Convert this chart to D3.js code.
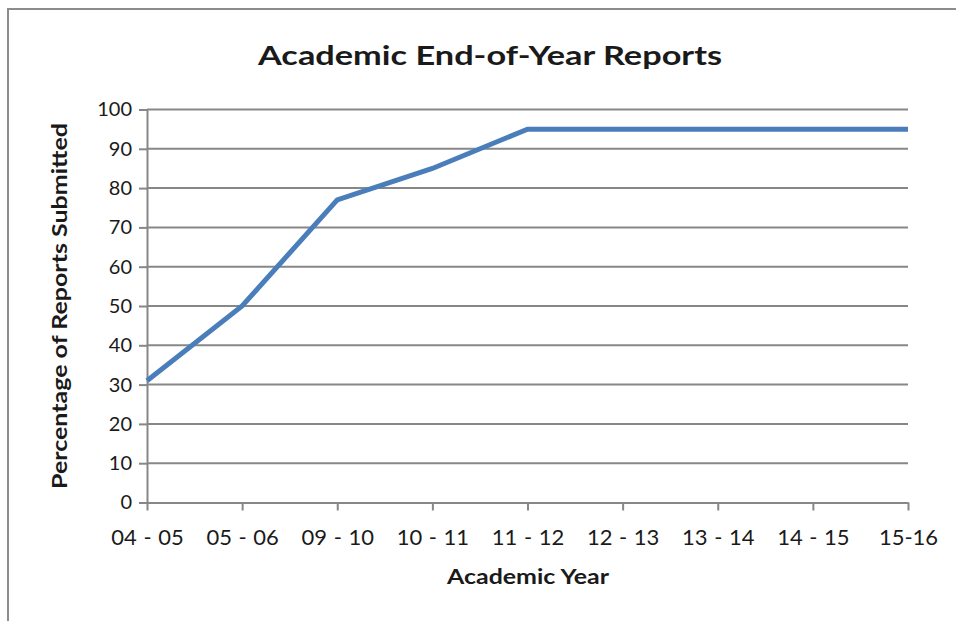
<!DOCTYPE html>
<html>
<head>
<meta charset="utf-8">
<script src="https://cdn.jsdelivr.net/npm/d3@7"></script>
<style>
  html, body { margin: 0; padding: 0; background: #fff; }
  svg { display: block; }
  text { font-family: Lato, "Open Sans", sans-serif; fill: #1a1a1a; }
</style>
</head>
<body>
<svg id="chart" width="956" height="621"></svg>
<script>
// Academic years on the horizontal axis
const years = ["04 - 05", "05 - 06", "09 - 10", "10 - 11", "11 - 12", "12 - 13", "13 - 14", "14 - 15", "15-16"];
// Percentage of end-of-year reports submitted per year
const submitted = [31, 50, 77, 85, 95, 95, 95, 95, 95];
// Y-axis ticks
const yTicks = [0, 10, 20, 30, 40, 50, 60, 70, 80, 90, 100];

const svg = d3.select("#chart");
const W = 956, H = 621;
const margin = { left: 147, right: W - 908, top: 109.5, bottom: H - 502.5 };

// Chart frame
svg.append("rect")
  .attr("x", 8).attr("y", 9)
  .attr("width", 960).attr("height", 640)
  .attr("fill", "none").attr("stroke", "#8c8c8c").attr("stroke-width", 2);

const x = d3.scalePoint().domain(years).range([margin.left, W - margin.right]);
const y = d3.scaleLinear().domain([0, 100]).range([H - margin.bottom, margin.top]);

const gridColor = "#878787";

// Horizontal gridlines
svg.append("g")
  .selectAll("line")
  .data(yTicks.filter(d => d > 0))
  .join("line")
  .attr("x1", margin.left).attr("x2", W - margin.right)
  .attr("y1", d => y(d)).attr("y2", d => y(d))
  .attr("stroke", gridColor).attr("stroke-width", 2);

// Y axis
const yAxis = svg.append("g")
  .attr("transform", `translate(${margin.left},0)`)
  .call(d3.axisLeft(y).tickValues(yTicks).tickSize(8).tickPadding(7).tickSizeOuter(0));
yAxis.select(".domain").attr("stroke", gridColor).attr("stroke-width", 2);
yAxis.selectAll(".tick line").attr("stroke", gridColor).attr("stroke-width", 2);
yAxis.selectAll(".tick text")
  .attr("font-family", "Lato, 'Open Sans', sans-serif")
  .attr("font-size", 20).attr("fill", "#1a1a1a");

// X axis
const xAxis = svg.append("g")
  .attr("transform", `translate(0,${H - margin.bottom})`)
  .call(d3.axisBottom(x).tickSize(8).tickPadding(19).tickSizeOuter(0));
xAxis.select(".domain").attr("stroke", gridColor).attr("stroke-width", 2);
xAxis.selectAll(".tick line").attr("stroke", gridColor).attr("stroke-width", 2);
xAxis.selectAll(".tick text")
  .attr("font-family", "Lato, 'Open Sans', sans-serif")
  .attr("font-size", 22).attr("word-spacing", 1).attr("fill", "#1a1a1a");

// Data line
const line = d3.line()
  .x((d, i) => x(years[i]))
  .y(d => y(d));
svg.append("path")
  .datum(submitted)
  .attr("d", line)
  .attr("fill", "none")
  .attr("stroke", "#4a7ebb")
  .attr("stroke-width", 5)
  .attr("stroke-linejoin", "miter");

// Title
svg.append("text")
  .attr("x", 490).attr("y", 65)
  .attr("text-anchor", "middle")
  .attr("font-size", 27).attr("font-weight", "bold")
  .attr("textLength", 464).attr("lengthAdjust", "spacingAndGlyphs")
  .text("Academic End-of-Year Reports");

// Axis titles
svg.append("text")
  .attr("x", 528).attr("y", 584)
  .attr("text-anchor", "middle")
  .attr("font-size", 20).attr("font-weight", "bold")
  .attr("textLength", 162).attr("lengthAdjust", "spacingAndGlyphs")
  .text("Academic Year");

svg.append("text")
  .attr("transform", "translate(67,306) rotate(-90)")
  .attr("text-anchor", "middle")
  .attr("font-size", 20).attr("font-weight", "bold")
  .attr("textLength", 366).attr("lengthAdjust", "spacingAndGlyphs")
  .text("Percentage of Reports Submitted");
</script>
</body>
</html>
